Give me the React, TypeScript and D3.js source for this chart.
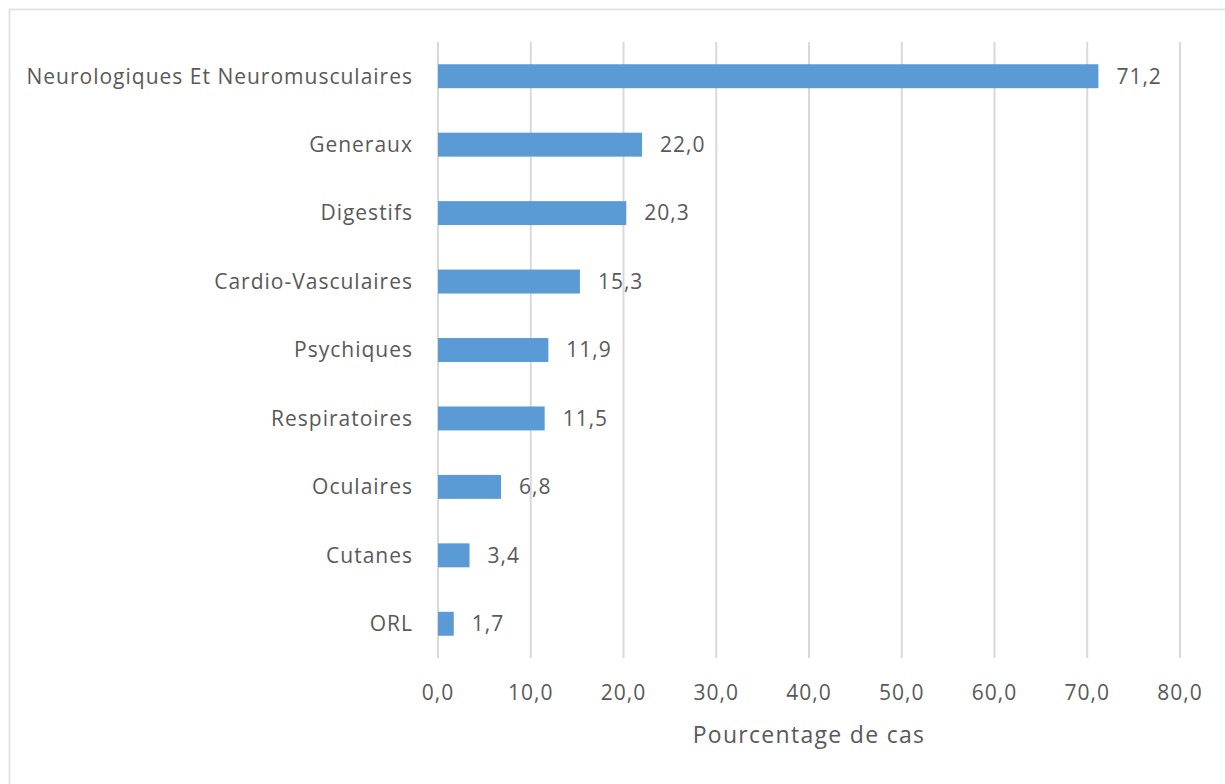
import React from "react";
import * as d3 from "d3";

const categories = [
  "Neurologiques Et Neuromusculaires",
  "Generaux",
  "Digestifs",
  "Cardio-Vasculaires",
  "Psychiques",
  "Respiratoires",
  "Oculaires",
  "Cutanes",
  "ORL",
];
const values = [71.2, 22.0, 20.3, 15.3, 11.9, 11.5, 6.8, 3.4, 1.7];
const xTicks = [0, 10, 20, 30, 40, 50, 60, 70, 80];
const xTitle = "Pourcentage de cas";

const W = 1225;
const H = 784;
const left = 438;
const right = 1180;
const top = 42;
const bottom = 658;
const FONT = "'Open Sans', 'Liberation Sans', sans-serif";
const TEXT = "#595959";
const fmt = (v: number) => v.toFixed(1).replace(".", ",");

export default function App() {
  const x = d3.scaleLinear().domain([0, 80]).range([left, right]);
  const y = d3.scaleBand<string>().domain(categories).range([top, bottom]).paddingInner(0.65).paddingOuter(0.325);
  return (
    <svg width={W} height={H} style={{ position: "absolute", left: 0, top: 0, background: "#fff" }} fontFamily={FONT}>
      <line x1={9} x2={W} y1={9.5} y2={9.5} stroke="#E4E4E4" strokeWidth={2} />
      <line x1={9.5} x2={9.5} y1={9} y2={H} stroke="#E4E4E4" strokeWidth={2} />
      {xTicks.map((t) => (
        <g key={t}>
          <line x1={x(t)} x2={x(t)} y1={top} y2={bottom} stroke="#D9D9D9" strokeWidth={2} />
          <text x={x(t)} y={700} textAnchor="middle" fontSize={21} letterSpacing={1} fill={TEXT}>
            {fmt(t)}
          </text>
        </g>
      ))}
      {categories.map((c, i) => {
        const yc = (y(c) as number) + y.bandwidth() / 2;
        return (
          <g key={c}>
            <rect x={x(0)} y={y(c)} width={x(values[i]) - x(0)} height={y.bandwidth()} fill="#5B9BD5" />
            <text x={413} y={yc} dy="0.35em" textAnchor="end" fontSize={21} letterSpacing={1} fill={TEXT}>
              {c}
            </text>
            <text x={x(values[i]) + 18} y={yc} dy="0.35em" textAnchor="start" fontSize={21} letterSpacing={1} fill={TEXT}>
              {fmt(values[i])}
            </text>
          </g>
        );
      })}
      <text x={(left + right) / 2} y={743} textAnchor="middle" fontSize={23} letterSpacing={1.3} fill={TEXT}>
        {xTitle}
      </text>
    </svg>
  );
}
